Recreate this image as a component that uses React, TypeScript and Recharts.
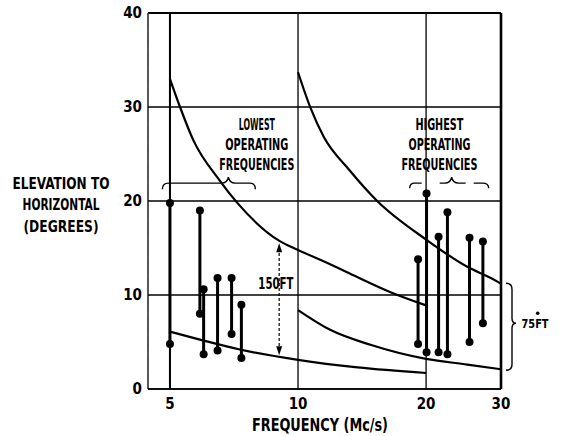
import React from 'react';
import {
  ComposedChart,
  Line,
  XAxis,
  YAxis,
  CartesianGrid,
  ReferenceLine,
  ReferenceDot,
} from 'recharts';

const FONT = "'DejaVu Sans Condensed', 'Liberation Sans Narrow', 'DejaVu Sans', sans-serif";

const xTicks = [5, 10, 20, 30];
const yTicks = [0, 10, 20, 30, 40];

// 150 ft array limits
const upper150Freq = [5, 5.28, 5.67, 6.54, 7.2, 9.08, 10, 12, 13.5, 16.5, 20];
const upper150Elev = [33, 30, 26.5, 22.2, 19.8, 15.7, 14.8, 13.2, 12.1, 10.3, 8.9];
const lower150Freq = [5, 6, 7.3, 10, 13.8, 20];
const lower150Elev = [6.1, 5.15, 4.2, 3.1, 2.3, 1.7];

// 75 ft array limits
const upper75Freq = [10, 10.7, 11.5, 13.2, 15.35, 20, 25, 28.4, 30];
const upper75Elev = [33.7, 29.9, 26.8, 23.3, 20, 15.9, 13.0, 11.8, 11.2];
const lower75Freq = [10, 11.9, 14.8, 20, 25, 30];
const lower75Elev = [8.4, 6.3, 4.7, 3.2, 2.6, 2.1];

// observed elevation ranges
const obsFreq = [5, 5.88, 6.0, 6.47, 6.98, 7.36, 19.15, 20.05, 21.4, 22.45, 25.3, 27.2];
const obsLow = [4.8, 8.0, 3.7, 4.1, 5.85, 3.3, 4.8, 3.9, 3.9, 3.7, 5.0, 7.0];
const obsHigh = [19.8, 19.0, 10.6, 11.8, 11.8, 8.95, 13.8, 20.8, 16.2, 18.8, 16.1, 15.7];

const lowLabel = ['LOWEST', 'OPERATING', 'FREQUENCIES'];
const lowWidths = [36, 63, 75];
const highLabel = ['HIGHEST', 'OPERATING', 'FREQUENCIES'];
const highWidths = [48, 62, 76];
const yLabel = ['ELEVATION TO', 'HORIZONTAL', '(DEGREES)'];
const yLabelWidths = [97, 77, 75];

const toPoints = (fs: number[], vs: number[]) => fs.map((f, i) => ({ f, v: vs[i] }));

const curves = [
  toPoints(upper150Freq, upper150Elev),
  toPoints(lower150Freq, lower150Elev),
  toPoints(upper75Freq, upper75Elev),
  toPoints(lower75Freq, lower75Elev),
];

const ranges = obsFreq.map((f, i) => [
  { f, v: obsLow[i] },
  { f, v: obsHigh[i] },
]);

const txt = { fontFamily: FONT, fontWeight: 700, fill: '#000' };

function Stack({ cx, cy, lines, widths, size, gap = 19.6 }: any) {
  return (
    <g>
      {lines.map((s: string, i: number) => (
        <text
          key={s + i}
          x={cx}
          y={cy + (i - 1) * gap}
          textAnchor="middle"
          dominantBaseline="central"
          fontSize={size}
          textLength={widths[i]}
          lengthAdjust="spacingAndGlyphs"
          {...txt}
        >
          {s}
        </text>
      ))}
    </g>
  );
}

export default function App() {
  return (
    <div style={{ position: 'absolute', left: 0, top: 0, width: 561, height: 436, background: '#fff' }}>
      <ComposedChart width={561} height={436} margin={{ top: 13, right: 60, bottom: 17, left: 0 }}>
        <CartesianGrid stroke="#000" strokeWidth={1.3} />
        <XAxis
          dataKey="f"
          type="number"
          scale="log"
          domain={[4.44, 30]}
          allowDataOverflow
          ticks={xTicks}
          interval={0}
          height={30}
          tickLine={false}
          tickSize={0}
          tickMargin={9}
          axisLine={{ stroke: '#000', strokeWidth: 1.6 }}
          tick={{ ...txt, fontSize: 15 }}
          label={{
            content: (p: any) => (
              <text
                x={p.viewBox.x + 172}
                y={p.viewBox.y + 36}
                textAnchor="middle"
                dominantBaseline="central"
                fontSize={17}
                textLength={136}
                lengthAdjust="spacingAndGlyphs"
                {...txt}
              >
                FREQUENCY (Mc/s)
              </text>
            ),
          }}
        />
        <YAxis
          type="number"
          domain={[0, 40]}
          ticks={yTicks}
          interval={0}
          width={148}
          tickLine={false}
          tickSize={5}
          tickMargin={1}
          axisLine={{ stroke: '#555', strokeDasharray: '14 5' }}
          tick={{ ...txt, fontSize: 15 }}
          label={{
            content: (p: any) => (
              <Stack
                cx={p.viewBox.x + 61}
                cy={p.viewBox.y + 192}
                lines={yLabel}
                widths={yLabelWidths}
                size={15}
                gap={21.5}
              />
            ),
          }}
        />
        <ReferenceLine x={5} stroke="#000" strokeWidth={2} />
        <ReferenceLine x={30} stroke="#000" strokeWidth={2.6} />
        <ReferenceLine y={40} stroke="#000" strokeWidth={2} />

        {curves.map((d, i) => (
          <Line
            key={'c' + i}
            data={d}
            dataKey="v"
            type="monotone"
            stroke="#000"
            strokeWidth={2.2}
            dot={false}
            isAnimationActive={false}
          />
        ))}
        {ranges.map((d, i) => (
          <Line
            key={'r' + i}
            data={d}
            dataKey="v"
            type="linear"
            stroke="#000"
            strokeWidth={3}
            dot={{ r: 4, fill: '#000', stroke: 'none' }}
            isAnimationActive={false}
          />
        ))}

        <ReferenceLine
          segment={[{ x: 9.03, y: 15.0 }, { x: 9.03, y: 4.0 }]}
          stroke="#000"
          strokeWidth={1.2}
          strokeDasharray="3 2"
        />
        <ReferenceDot
          x={9.03}
          y={15.5}
          r={1}
          shape={(p: any) => <path d={`M${p.cx} ${p.cy} l-3 9 l6 0 Z`} fill="#000" />}
        />
        <ReferenceDot
          x={9.03}
          y={3.6}
          r={1}
          shape={(p: any) => <path d={`M${p.cx} ${p.cy} l-3 -9 l6 0 Z`} fill="#000" />}
        />
        <ReferenceDot
          x={8.87}
          y={11.17}
          r={1}
          shape={(p: any) => (
            <text x={p.cx} y={p.cy} textAnchor="middle" dominantBaseline="central" fontSize={15} textLength={35} lengthAdjust="spacingAndGlyphs" {...txt}>
              150FT
            </text>
          )}
        />

        <ReferenceDot
          x={8.0}
          y={25.96}
          r={1}
          shape={(p: any) => <Stack cx={p.cx} cy={p.cy} lines={lowLabel} widths={lowWidths} size={15} />}
        />
        <ReferenceDot
          x={21.5}
          y={25.96}
          r={1}
          shape={(p: any) => <Stack cx={p.cx} cy={p.cy} lines={highLabel} widths={highWidths} size={15} />}
        />
        <ReferenceDot
          x={6.86}
          y={21.9}
          r={1}
          shape={(p: any) => (
            <path
              transform={`translate(${p.cx},${p.cy})`}
              d="M-66 6 Q-66 0 -60 0 L-7 0 Q-1 0 0 -6 Q1 0 7 0 L21 0 Q27 0 27 6"
              fill="none"
              stroke="#000"
              strokeWidth={1.4}
            />
          )}
        />
        <ReferenceDot
          x={22.97}
          y={21.9}
          r={1}
          shape={(p: any) => (
            <path
              transform={`translate(${p.cx},${p.cy})`}
              d="M-42 5 Q-42 0 -37 0 L-30 0 M-12 0 L-7 0 Q-1 0 0 -6 Q1 0 7 0 L14 0 M22 0 L31 0 Q37 0 37 5"
              fill="none"
              stroke="#000"
              strokeWidth={1.4}
            />
          )}
        />
        <ReferenceDot
          x={30}
          y={6.99}
          r={1}
          ifOverflow="visible"
          shape={(p: any) => (
            <g transform={`translate(${p.cx},${p.cy})`}>
              <path
                d="M5 -40 Q11 -40 11 -34 L11 -5 Q11 0 15 0 Q11 0 11 5 L11 41 Q11 47 5 47"
                fill="none"
                stroke="#000"
                strokeWidth={1.4}
              />
              <circle cx={36.7} cy={-10} r={1.8} fill="#000" />
              <text x={34} y={0} textAnchor="middle" dominantBaseline="central" fontSize={13} textLength={27} lengthAdjust="spacingAndGlyphs" {...txt}>
                75FT
              </text>
            </g>
          )}
        />
      </ComposedChart>
    </div>
  );
}
